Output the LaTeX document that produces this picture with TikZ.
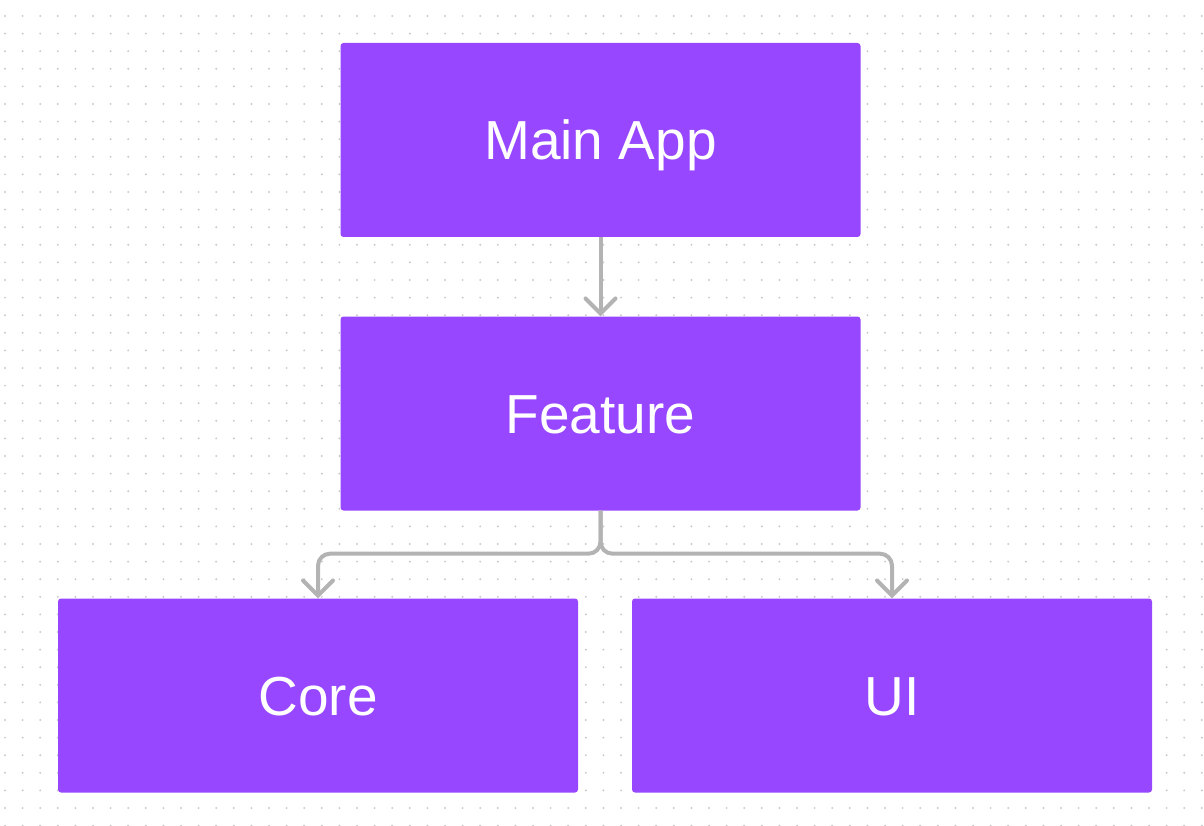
\documentclass[tikz,border=0pt]{standalone}
\usepackage{fontspec}
\setmainfont{Liberation Sans}
\usepackage{tikz}
\usetikzlibrary{calc}
\usetikzlibrary{arrows.meta}
\usetikzlibrary{positioning}
\definecolor{figpurple}{HTML}{9747FF}
\definecolor{linkgray}{HTML}{B3B3B3}
\definecolor{dotgray}{HTML}{CACACA}
\tikzset{>={Straight Barb[length=15pt,width=30pt,line cap=round]}}
\tikzstyle{box} = [rectangle, fill=figpurple, draw=none, rounded corners=3pt, minimum width=520pt, minimum height=194pt, text=white, text height=39pt, text depth=0pt, font=\fontsize{55}{60}\selectfont]
\tikzstyle{link} = [->, draw=linkgray, line width=4pt, rounded corners=12pt]

\begin{document}
\begin{tikzpicture}[x=1pt, y=-1pt]
\useasboundingbox (0,0) rectangle (1204,826);
% dotted canvas
\foreach \i in {0,...,68} {
  \foreach \j in {0,...,46} {
    \fill [dotgray] (5+17.6*\i, 16+17.6*\j) circle (1.1pt);
  }
}
\node [box] (main) at (600.5, 140) {Main App};
\node [box] (feature) at (600.5, 413.5) {Feature};
\node [box] (core) at (318, 695.5) {Core};
\node [box] (ui) at (892, 695.5) {UI};
\coordinate (split) at ($(feature.south)+(0,43)$);
\draw [link] (main) -- (feature);
\draw [link] (feature.south) -- (split) -| (core.north);
\draw [link] (feature.south) -- (split) -| (ui.north);
\end{tikzpicture}
\end{document}
